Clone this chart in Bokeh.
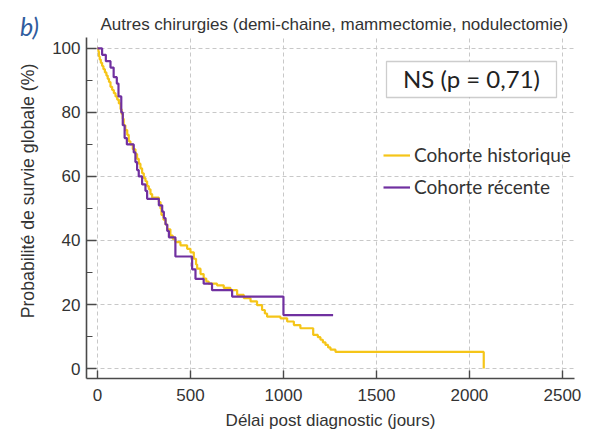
import math
from bokeh.plotting import figure
from bokeh.models import Label, Legend, LegendItem, BoxAnnotation, Range1d, FixedTicker
from bokeh.embed import file_html
from bokeh.resources import INLINE

# ---- data ----
hist_t = [0, 5, 8, 12, 18, 25, 32, 40, 48, 55, 62, 70, 79, 88, 97, 106, 115, 124, 130, 136,
          141, 150, 160, 168, 177, 190, 204, 213, 222, 231, 240, 249, 258, 267, 276, 285, 294, 330, 339, 344,
          355, 366, 375, 392, 405, 419, 446, 482, 500, 518, 530, 536, 554, 571, 585, 598, 643, 679, 715, 751,
          787, 823, 858, 885, 900, 912, 984, 1020, 1056, 1091, 1160, 1185, 1199, 1212, 1226, 1240, 1253, 1280, 2077]
hist_s = [100, 99, 97.5, 96.5, 95.5, 94.5, 93.5, 92.5, 91.5, 90.5, 89.5, 88, 87, 86, 85, 84, 82.8, 81, 79.5, 78,
          76, 74.5, 73, 71, 70, 68.5, 67, 65.5, 64, 62.5, 61, 59.5, 58.5, 57, 56, 54.5, 53.4, 52, 50, 48,
          46.5, 45, 43.5, 41.5, 40.5, 39.5, 38.5, 37.4, 36.3, 34.3, 32.5, 31.2, 29.5, 28.1, 27.2, 26.5, 26, 25.2, 24.5, 23,
          22, 21, 19.8, 18.3, 17.2, 16.2, 15.7, 14.7, 13.6, 12.6, 10.5, 9.8, 9, 8.2, 7.4, 6.6, 5.9, 5.2, 0]

rec_t = [0, 25, 45, 70, 87, 104, 113, 128, 136, 146, 158, 195, 204, 213, 222, 240, 258, 267, 330, 348,
         357, 366, 375, 384, 419, 509, 527, 571, 616, 724, 1000, 1267]
rec_s = [100, 98, 96, 94, 91, 89, 85, 80, 76, 72, 70, 67.5, 64.5, 62, 60, 57.5, 55.5, 53, 51, 49,
         47, 45, 43, 41, 35, 31, 28, 26.5, 24.5, 22.5, 16.7, 16.7]

series_names = ["Cohorte historique", "Cohorte récente"]
x_ticks = [0, 500, 1000, 1500, 2000, 2500]
y_ticks = [0, 20, 40, 60, 80, 100]
y_minor = [10, 30, 50, 70, 90]

title_text = "Autres chirurgies (demi-chaine, mammectomie, nodulectomie)"
x_label = "Délai post diagnostic (jours)"
y_label = "Probabilité de survie globale (%)"
stat_text = "NS (p = 0,71)"
panel_tag = "b)"

YELLOW = "#F5C518"
PURPLE = "#7030A0"
TXT = "#333333"
AX = "#4a4a4a"

p = figure(width=592, height=432, output_backend="svg", toolbar_location=None,
           x_range=Range1d(-59, 2565), y_range=Range1d(-3.1, 103.4),
           min_border_left=86, min_border_right=18, min_border_top=37, min_border_bottom=51)
p.outline_line_color = None
p.background_fill_color = "white"
p.border_fill_color = "white"

r_h = p.step(hist_t, hist_s, mode="after", line_color=YELLOW, line_width=2.2)
r_r = p.step(rec_t, rec_s, mode="after", line_color=PURPLE, line_width=2.2)

# title
p.title.text = title_text
p.title.align = "left"
p.title.offset = 14
p.title.standoff = 8
p.title.text_font = "Liberation Sans"
p.title.text_font_size = "17px"
p.title.text_font_style = "normal"
p.title.text_color = TXT

# axes
p.xaxis.ticker = FixedTicker(ticks=x_ticks, minor_ticks=[])
p.yaxis.ticker = FixedTicker(ticks=y_ticks, minor_ticks=y_minor)
for ax in (p.xaxis[0], p.yaxis[0]):
    ax.axis_line_color = AX
    ax.axis_line_width = 1.6
    ax.major_tick_line_color = AX
    ax.major_tick_line_width = 1.4
    ax.minor_tick_line_color = AX
    ax.minor_tick_line_width = 1.2
    ax.major_tick_out = 0
    ax.minor_tick_out = 0
    ax.major_label_text_font = "Liberation Sans"
    ax.major_label_text_font_size = "17px"
    ax.major_label_text_color = TXT
p.xaxis.major_tick_in = 8
p.xaxis.minor_tick_in = 0
p.yaxis.major_tick_in = 10
p.yaxis.minor_tick_in = 6
p.xaxis.major_label_standoff = 10
p.yaxis.major_label_standoff = 6

p.xaxis.axis_label = x_label
p.xaxis.axis_label_standoff = 7
p.xaxis.axis_label_text_font = "Liberation Sans"
p.xaxis.axis_label_text_font_size = "17px"
p.xaxis.axis_label_text_font_style = "normal"
p.xaxis.axis_label_text_color = TXT

for g in (p.xgrid[0], p.ygrid[0]):
    g.grid_line_color = "#c8c8c8"
    g.grid_line_dash = "4 3"
    g.grid_line_width = 1
p.xgrid.ticker = FixedTicker(ticks=x_ticks)
p.ygrid.ticker = FixedTicker(ticks=y_ticks)

# side-panel texts (left panel, outside the clipped frame)
p.add_layout(Label(x=-1.6, y=187.5, x_units="screen", y_units="screen", text=y_label,
                   angle=math.pi / 2, text_font="Liberation Sans", text_font_size="17.7px",
                   text_color=TXT, text_baseline="middle", text_align="center"), "left")
p.add_layout(Label(x=9.4, y=353, x_units="screen", y_units="screen", text=panel_tag,
                   text_font="Lato", text_font_style="italic", text_font_size="25px",
                   text_color="#2F5C9E", text_baseline="alphabetic", text_align="left"), "left")

# statistic box
p.add_layout(BoxAnnotation(left=300, right=470, bottom=281, top=317,
                           left_units="screen", right_units="screen",
                           bottom_units="screen", top_units="screen",
                           fill_color="white", fill_alpha=1.0,
                           line_color="#5a5a5a", line_width=1.3))
p.add_layout(Label(x=385, y=300, x_units="screen", y_units="screen", text=stat_text,
                   text_font="Lato", text_font_size="24px", text_color="#222222",
                   text_baseline="middle", text_align="center"))

legend = Legend(items=[LegendItem(label=series_names[0], renderers=[r_h]),
                       LegendItem(label=series_names[1], renderers=[r_r])],
                location=(297, 180), orientation="vertical",
                glyph_width=27, glyph_height=20, label_height=20, spacing=9,
                padding=0, margin=0, label_standoff=4,
                border_line_alpha=0, background_fill_alpha=0,
                label_text_font="Lato", label_text_font_size="19px", label_text_color="#333333")
p.add_layout(legend)

open("out.html", "w").write(file_html(p, INLINE))
